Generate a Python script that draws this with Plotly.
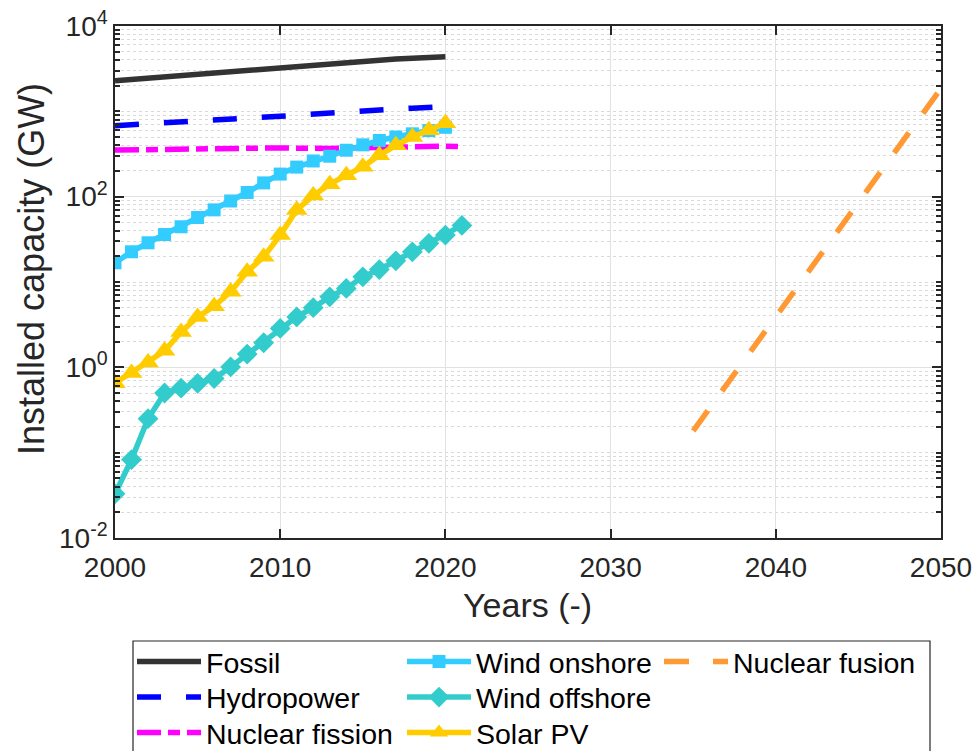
import plotly.graph_objects as go

years_fossil = list(range(2000, 2021))
fossil = [2280, 2360, 2440, 2520, 2610, 2710, 2830, 2950, 3060, 3180, 3310, 3440, 3560, 3680, 3790, 3900, 4010, 4110, 4200, 4280, 4350]

years_hydro = list(range(2000, 2021))
hydro = [680, 695, 710, 725, 745, 765, 785, 810, 835, 855, 875, 900, 930, 955, 985, 1015, 1040, 1065, 1090, 1115, 1140]

years_fission = list(range(2000, 2022))
fission = [352, 355, 358, 361, 363, 365, 367, 369, 370, 371, 373, 370, 366, 368, 372, 376, 380, 383, 386, 388, 390, 385]

years_onshore = list(range(2000, 2021))
onshore = [16.8, 22.6, 28.8, 36, 44.4, 57, 70, 89, 112, 145, 184, 222, 262, 298, 350, 405, 455, 500, 545, 595, 650]

years_offshore = list(range(2000, 2022))
offshore = [0.033, 0.083, 0.25, 0.50, 0.57, 0.65, 0.74, 1.01, 1.43, 1.94, 2.86, 3.9, 5.0, 6.7, 8.4, 11.5, 14.0, 17.7, 22.6, 28.4, 35.5, 46]

years_solar = list(range(2000, 2021))
solar = [0.65, 0.86, 1.14, 1.56, 2.6, 3.9, 5.2, 7.7, 13.2, 19.7, 35.5, 70, 103, 140, 178, 224, 305, 400, 500, 600, 725]

years_fusion = [2035, 2050]
fusion = [0.18, 1860]

x_ticks = [2000, 2010, 2020, 2030, 2040, 2050]
y_tickvals = [0.01, 1, 100, 10000]
y_ticktext = ["10<sup>-2</sup>", "10<sup>0</sup>", "10<sup>2</sup>", "10<sup>4</sup>"]

FONT = "Liberation Sans, Arial, Helvetica, sans-serif"
TXT = "#262626"

fig = go.Figure()
LW = 5.5

fig.add_trace(go.Scatter(x=years_fossil, y=fossil, mode="lines", name="Fossil",
                         line=dict(color="#333333", width=LW), legend="legend"))
fig.add_trace(go.Scatter(x=years_hydro, y=hydro, mode="lines", name="Hydropower",
                         line=dict(color="#0000ff", width=LW, dash="24px,25px"), legend="legend2"))
fig.add_trace(go.Scatter(x=years_fission, y=fission, mode="lines", name="Nuclear fission",
                         line=dict(color="#ff00ff", width=LW, dash="24px,7px,12px,7px"), legend="legend3"))
fig.add_trace(go.Scatter(x=years_onshore, y=onshore, mode="lines+markers", name="Wind onshore",
                         line=dict(color="#33ccff", width=LW),
                         marker=dict(symbol="square", size=13, color="#33ccff"), legend="legend4"))
fig.add_trace(go.Scatter(x=years_offshore, y=offshore, mode="lines+markers", name="Wind offshore",
                         line=dict(color="#33cccc", width=LW),
                         marker=dict(symbol="diamond", size=16, color="#33cccc"), legend="legend5"))
fig.add_trace(go.Scatter(x=years_solar, y=solar, mode="lines+markers", name="Solar PV",
                         line=dict(color="#ffcc00", width=LW),
                         marker=dict(symbol="triangle-up", size=19, color="#ffcc00"), legend="legend6"))
fig.add_trace(go.Scatter(x=years_fusion, y=fusion, mode="lines", name="Nuclear fusion",
                         line=dict(color="#ff9933", width=LW, dash="25px,24px"), legend="legend7"))

L, R, T, B = 115, 33, 26, 213
W, H = 974, 751
pw = W - L - R
ph = H - T - B

def px2x(px):
    return (px - L) / pw

def py2y(py):
    return 1 - (py - T) / ph

def cx(px):
    return px / W

def cy(py):
    return 1 - py / H

minor_vals = [k * 10 ** d for d in range(-2, 4) for k in range(2, 10)] + [0.1, 10, 1000]

leg_common = dict(font=dict(family=FONT, size=28.5, color="#000000"), bgcolor="rgba(0,0,0,0)",
                  borderwidth=0, itemwidth=64, tracegroupgap=0, yanchor="middle", xanchor="left",
                  orientation="v", xref="container", yref="container")

col_x = [132, 402, 659]
row_y = [662, 697.5, 733]

fig.update_layout(
    width=W, height=H,
    margin=dict(l=L, r=R, t=T, b=B, autoexpand=False),
    paper_bgcolor="white", plot_bgcolor="white",
    font=dict(family=FONT, color=TXT, size=28),
    xaxis=dict(range=[2000, 2050], tickvals=x_ticks, ticks="inside", ticklen=9, tickwidth=1.5,
               tickcolor=TXT, showline=True, linecolor=TXT, linewidth=1.5, mirror="ticks",
               showgrid=True, gridcolor="#e1e1e1", gridwidth=1, zeroline=False, automargin=False,
               ticklabelstandoff=4,
               tickfont=dict(size=28, family=FONT, color=TXT)),
    yaxis=dict(type="log", range=[-2, 4], tickmode="array", tickvals=y_tickvals, ticktext=y_ticktext,
               ticks="inside", ticklen=9, tickwidth=1.5, tickcolor=TXT, automargin=False,
               showline=True, linecolor=TXT, linewidth=1.5, mirror="ticks",
               showgrid=True, gridcolor="#e1e1e1", gridwidth=1, zeroline=False,
               tickfont=dict(size=28, family=FONT, color=TXT),
               minor=dict(tickmode="array", tickvals=minor_vals, ticks="inside", ticklen=5,
                          tickcolor=TXT, tickwidth=1.5, showgrid=True, gridcolor="#d9d9d9",
                          griddash="dot", gridwidth=1)),
    annotations=[
        dict(text="Years (-)", xref="paper", yref="paper", x=px2x(527), y=py2y(605),
             xanchor="center", yanchor="middle", showarrow=False,
             font=dict(size=34, family=FONT, color=TXT)),
        dict(text="Installed capacity (GW)", xref="paper", yref="paper", x=px2x(31), y=py2y(269),
             xanchor="center", yanchor="middle", showarrow=False, textangle=-90,
             font=dict(size=36, family=FONT, color=TXT)),
    ],
    legend=dict(x=cx(col_x[0]), y=cy(row_y[0]), **leg_common),
    legend2=dict(x=cx(col_x[0]), y=cy(row_y[1]), **leg_common),
    legend3=dict(x=cx(col_x[0]), y=cy(row_y[2]), **leg_common),
    legend4=dict(x=cx(col_x[1]), y=cy(row_y[0]), **leg_common),
    legend5=dict(x=cx(col_x[1]), y=cy(row_y[1]), **leg_common),
    legend6=dict(x=cx(col_x[1]), y=cy(row_y[2]), **leg_common),
    legend7=dict(x=cx(col_x[2]), y=cy(row_y[0]), **leg_common),
    shapes=[dict(type="rect", xref="paper", yref="paper", x0=px2x(133), x1=px2x(930),
                 y0=py2y(790), y1=py2y(641), line=dict(color="#262626", width=1.2),
                 fillcolor="rgba(0,0,0,0)", layer="below")],
    showlegend=True,
)

fig.write_html("out.html")
